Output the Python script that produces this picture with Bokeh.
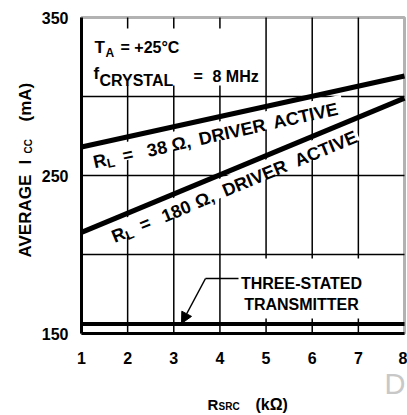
import math
from bokeh.plotting import figure
from bokeh.models import (Label, Arrow, NormalHead, FixedTicker, BoxAnnotation,
                          Range1d)
from bokeh.embed import file_html
from bokeh.resources import INLINE

# ---- data ----
r_src = [1, 8]                 # kOhm
icc_38 = [268, 313]            # mA, R_L = 38 ohm, driver active
icc_180 = [214, 299]           # mA, R_L = 180 ohm, driver active
icc_tri = [156, 156]           # mA, three-stated transmitter
x_ticks = [1, 2, 3, 4, 5, 6, 7, 8]
y_ticks = [150, 250, 350]
x_grid = [2, 3, 4, 5, 6, 7]
y_grid = [200, 250, 300]

# ---- layout: the frame fills the canvas; the data box sits inside it ----
W, H = 407, 413
BL, BT, BW, BH = 81, 17, 323, 316      # data box in canvas pixels
X0, X1, Y0, Y1 = 1, 8, 150, 350
FONT = "Liberation Sans"
kx = (X1 - X0) / BW
ky = (Y1 - Y0) / BH


def px(xp, yp):
    """canvas pixel -> data coordinates (for annotation placement)"""
    return X0 + (xp - BL) * kx, Y1 - (yp - BT) * ky


xr = Range1d(X0 - BL * kx, X1 + (W - BL - BW) * kx)
yr = Range1d(Y0 - (H - BT - BH) * ky, Y1 + BT * ky)

p = figure(width=W, height=H, x_range=xr, y_range=yr,
           output_backend="svg", toolbar_location=None, min_border=0)
p.background_fill_color = "white"
p.border_fill_color = "white"
p.outline_line_color = None
p.xgrid.visible = False
p.ygrid.visible = False

xa_, ya_ = p.xaxis[0], p.yaxis[0]
xa_.fixed_location = Y0
xa_.bounds = (X0, X1)
ya_.fixed_location = X0
ya_.bounds = (Y0, Y1)
for ax in (xa_, ya_):
    ax.axis_line_width = 3
    ax.axis_line_color = "black"
    ax.major_tick_line_color = None
    ax.minor_tick_line_color = None
    ax.major_label_text_font = FONT
    ax.major_label_text_font_style = "bold"
    ax.major_label_text_font_size = "16px"
    ax.major_label_text_color = "black"
xa_.ticker = FixedTicker(ticks=x_ticks)
ya_.ticker = FixedTicker(ticks=y_ticks)
xa_.major_label_standoff = 12
ya_.major_label_standoff = 7

# grid lines
p.segment(x0=x_grid, y0=[Y0] * len(x_grid), x1=x_grid, y1=[Y1] * len(x_grid),
          line_width=1.5, color="black")
p.segment(x0=[X0] * len(y_grid), y0=y_grid, x1=[X1] * len(y_grid), y1=y_grid,
          line_width=1.5, color="black")


def white_box(x_left, y_top, x_right, y_bottom):
    l, t = px(x_left, y_top)
    r, b = px(x_right, y_bottom)
    p.quad(left=[l], right=[r], top=[t], bottom=[b], fill_color="white",
           line_color=None)


# white patches behind the notes (the grid is interrupted there)
white_box(238, 258, 404, 318)
white_box(83, 28, 262, 85)


def screen_angle(ys):
    return math.atan2((ys[1] - ys[0]) / ky, (r_src[1] - r_src[0]) / kx)


a38 = screen_angle(icc_38)
a180 = screen_angle(icc_180)


def band(x0, y0, ang, length):
    """white strip behind a rotated label"""
    c, s = math.cos(ang), math.sin(ang)
    d, off = length / 2, -4
    cx, cy = px(x0 + d * c + off * s, y0 - d * s + off * c)
    p.rect(x=[cx], y=[cy], width=[length + 4], height=[18], angle=[ang],
           width_units="screen", height_units="screen",
           fill_color="white", line_color=None)


band(93, 162, a38, 254)
band(112, 237, a180, 264)

p.line(r_src, icc_38, line_width=5, color="black")
p.line(r_src, icc_180, line_width=5, color="black")
p.line(r_src, icc_tri, line_width=4, color="black")

# frame border (top / right)
p.add_layout(BoxAnnotation(left=X0, right=X1, bottom=Y0, top=Y1,
                           fill_alpha=0, line_color="black", line_width=3))


def lab(xp, yp, text, size, angle=0.0, color="black", bold=True, align="left"):
    xd, yd = px(xp, yp)
    p.add_layout(Label(x=xd, y=yd, text=text, angle=angle, text_font=FONT,
                       text_font_size=f"{size}px",
                       text_font_style="bold" if bold else "normal",
                       text_color=color, text_align=align,
                       text_baseline="alphabetic"))


def along(x0, y0, ang, pieces):
    c, s = math.cos(ang), math.sin(ang)
    for d, off, text, size in pieces:
        lab(x0 + d * c + off * s, y0 - d * s + off * c, text, size, angle=ang)


along(93, 162, a38, [(0, 0, "R", 18), (13, 4, "L", 13), (30, 0, "=", 18),
                     (55, 0, "38", 18), (80, 0, "Ω,", 18),
                     (108, 0, "DRIVER", 18), (184, 0, "ACTIVE", 18)])
along(112, 237, a180, [(0, 0, "R", 18), (13, 4, "L", 13), (30, 0, "=", 18),
                       (54, 0, "180", 18), (90, 0, "Ω,", 18),
                       (120, 0, "DRIVER", 18), (198, 0, "ACTIVE", 18)])

# conditions
lab(94, 47, "T", 17)
lab(105, 52, "A", 12)
lab(120, 47, "= +25°C", 16)
lab(93, 73, "f", 17)
lab(99, 80, "CRYSTAL", 16)
lab(193, 76, "=", 16)
lab(212, 76, "8 MHz", 16)

# three-stated note
lab(301, 283, "THREE-STATED", 16, align="center")
lab(301, 304, "TRANSMITTER", 16, align="center")
xa, ya = px(205, 278)
xb, yb = px(238, 278)
xc, yc = px(181, 323)
p.segment(x0=[xa], y0=[ya], x1=[xb], y1=[yb], line_width=1.5, color="black")
p.add_layout(Arrow(end=NormalHead(size=11, fill_color="black", line_color="black"),
                   x_start=xa, y_start=ya, x_end=xc, y_end=yc,
                   line_width=1.5, line_color="black"))

# axis titles
lab(207, 404, "R", 15)
lab(218, 406, "SRC", 10)
lab(255, 404, "(kΩ)", 16)
V = math.pi / 2
lab(25, 257, "AVERAGE", 17, angle=V)
lab(25, 164, "I", 17, angle=V)
lab(28, 153, "CC", 10, angle=V)
lab(25, 121, "(mA)", 17, angle=V)

# watermark fragment at the right edge
lab(384, 383, "D", 29, color="#c8c8c8", bold=False)

open("out.html", "w").write(file_html(p, INLINE))
